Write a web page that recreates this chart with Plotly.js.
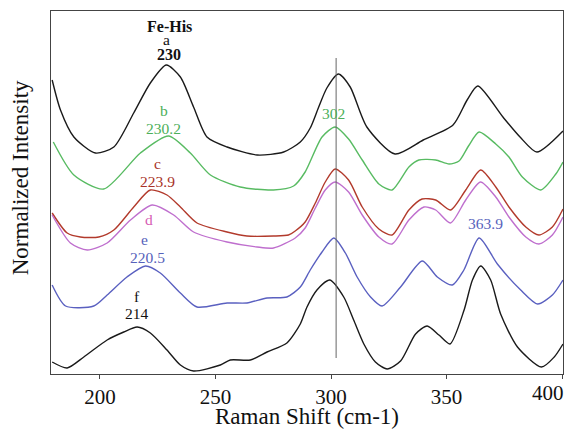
<!DOCTYPE html>
<html>
<head>
<meta charset="utf-8">
<script src="https://cdn.plot.ly/plotly-3.0.1.min.js"></script>
<style>html,body{margin:0;padding:0;background:#fff;}#chart{width:569px;height:429px;}</style>
</head>
<body>
<div id="chart"></div>
<script>
// Raman shift (cm-1) and offset normalized intensities
const xA = [179.3,182.9,188.7,198.0,206.0,214.6,221.8,228.7,234.8,240.5,246.3,255.0,268.0,279.5,286.7,291.0,294.5,298.2,303.2,308.3,315.5,327.7,339.9,352.8,358.9,363.5,374.4,381.8,389.1,400.4];
const yA = [294,264,237,221,227,261,291,309,297,267,237,227,219,222,232,246,266,286,300,287,247,220,234,249,274,288,257,237,222,243];

const xB = [179.8,188.7,201.6,217.5,229.7,239.1,247.8,260.7,275.1,283.8,288.8,296.1,301.8,307.6,313.5,320.7,326.4,333.7,338.0,345.3,351.1,355.4,359.5,364.1,371.3,377.0,382.8,390.8,397.3,400.4];
const yB = [232,199,185,221,238,221,199,187,184,188,202,237,247,235,214,190,184,207,214,214,210,213,228,242,230,217,197,184,200,212];

const xC = [179.3,185.8,191.5,199.5,206.0,214.6,221.8,229.0,234.8,242.0,255.0,263.6,275.1,281.6,284.5,288.8,293.2,297.5,301.8,307.6,313.5,320.7,326.4,333.7,339.4,345.3,351.7,358.3,364.8,371.3,377.0,384.3,390.0,395.8,400.4];
const yC = [161,141,137,137,144,167,184,179,167,151,142,138,138,139,143,152,171,192,205,194,167,145,139,164,175,174,164,184,204,187,167,147,139,147,165];

const xD = [179.3,187.2,194.5,203.1,213.2,222.6,231.9,240.5,255.0,268.0,275.1,284.5,288.8,293.2,297.5,301.8,307.6,313.5,320.7,326.4,333.7,340.2,345.3,351.7,358.3,364.7,371.3,377.0,384.3,390.0,395.8,400.4];
const yD = [159,131,124,131,154,169,159,142,132,127,126,136,146,166,184,192,182,159,137,130,154,167,164,151,174,192,177,157,137,130,139,157];

const xE = [179.3,185.1,197.3,203.1,211.7,219.7,226.1,234.8,242.0,255.0,263.6,272.3,280.9,286.7,291.0,296.1,301.2,306.2,311.3,317.1,322.1,330.1,339.5,346.0,352.5,357.5,364.1,372.0,382.1,389.4,395.8,400.4];
const yE = [89,68,68,79,97,108,101,81,67,71,71,76,77,87,104,122,136,121,97,77,68,87,113,97,89,104,136,110,84,70,79,94];

const xF = [179.3,185.8,193.0,203.1,210.3,216.1,221.8,229.0,234.8,240.5,252.1,256.4,265.1,272.3,280.9,286.7,289.6,293.9,299.4,305.5,309.8,314.2,319.2,324.3,330.1,336.6,341.6,346.7,351.5,357.6,361.2,364.8,369.1,373.4,380.7,391.1,396.6,400.4];
const yF = [12,6,17,34,42,47,41,24,9,3,9,14,14,22,31,50,67,84,94,77,54,30,12,5,13,40,48,39,30,64,94,108,94,60,27,7,17,30];

const refShift = 302.2;
const tickVals = [200,250,300,350,400];
const tickText = ['200','250','300','350',''];   // "400" is drawn as a label nudged left, as in the original
const lastTick = '400';

// label texts
const labelText = ['<b>Fe-His</b>','a','<b>230</b>','b','230.2','c','223.9','d','e','220.5','f','214','302','363.9'];
const labelX    = [230.0,228.6,229.7,227.6,227.6,224.7,224.7,221.1,219.2,220.4,216.1,216.1,301.2,366.9];
const labelY    = [348,334.2,319.5,263.3,245.7,210.7,192.3,154.7,134.7,116.3,77.3,60.7,260.3,150.5];
const labelCol  = ['#111','#111','#111','#4caf5a','#4caf5a','#a83228','#a83228','#d65cb4','#5662bb','#5662bb','#111','#111','#4caf5a','#5662bb'];

const cA='#1a1a1a', cB='#58bb62', cC='#b23a2c', cD='#bf6fce', cE='#5a60c0', cF='#1a1a1a';
const serif = 'Liberation Serif, Times New Roman, serif';

function tr(x,y,c){
  return {x:x,y:y,type:'scatter',mode:'lines',line:{color:c,width:1.4,shape:'spline',smoothing:0.7},hoverinfo:'skip',showlegend:false};
}
const data = [tr(xA,yA,cA),tr(xB,yB,cB),tr(xC,yC,cC),tr(xD,yD,cD),tr(xE,yE,cE),tr(xF,yF,cF)];

const annotations = labelText.map((t,i)=>({
  x:labelX[i], y:labelY[i], xref:'x', yref:'y', text:t, showarrow:false,
  font:{family:serif, size:(i===0||i===2)?16:15.5, color:labelCol[i]}
}));
annotations.push({
  text:'Normalized Intensity', xref:'paper', yref:'paper', x:-0.058, y:0.54,
  xanchor:'center', yanchor:'middle', textangle:-90, showarrow:false,
  font:{family:serif, size:23, color:'#111'}
});
annotations.push({
  text:lastTick, xref:'x', yref:'paper', x:tickVals[4], y:-0.052, xanchor:'right', yanchor:'middle',
  xshift:4, showarrow:false, font:{family:serif, size:21, color:'#111'}
});

const layout = {
  width:569, height:429,
  margin:{l:50.5,r:6,t:11,b:55},
  paper_bgcolor:'#fff', plot_bgcolor:'#fff',
  font:{family:serif, color:'#111'},
  xaxis:{range:[178.8,400.4], tickvals:tickVals, ticktext:tickText, ticks:'outside', ticklen:4, tickcolor:'#444',
    showline:true, mirror:true, linecolor:'#444', linewidth:1.2, showgrid:false, zeroline:false,
    tickfont:{size:21, color:'#111'},
    title:{text:'Raman Shift (cm-1)', font:{size:23,color:'#111'}, standoff:2}, automargin:false},
  yaxis:{range:[0,363], showticklabels:false, ticks:'', showline:true, mirror:true, linecolor:'#444', linewidth:1.2,
    showgrid:false, zeroline:false, automargin:false},
  shapes:[{type:'line', xref:'x', yref:'y', x0:refShift, x1:refShift, y0:16, y1:316, line:{color:'#666',width:1}}],
  annotations:annotations
};
Plotly.newPlot('chart', data, layout, {staticPlot:true, displayModeBar:false});
</script>
</body>
</html>
